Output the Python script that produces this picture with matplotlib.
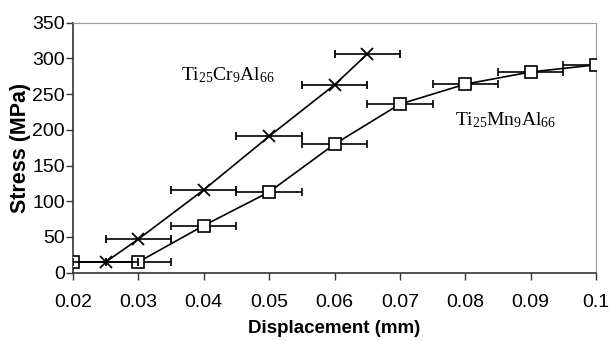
import matplotlib
matplotlib.use('Agg')
import matplotlib.pyplot as plt
from matplotlib import rcParams

rcParams['font.family'] = 'Liberation Sans'
rcParams['mathtext.fontset'] = 'custom'
rcParams['mathtext.rm'] = 'Liberation Serif'
rcParams['mathtext.it'] = 'Liberation Serif'

# Ti25Cr9Al66 (x markers)
cr_x = [0.025, 0.03, 0.04, 0.05, 0.06, 0.065]
cr_y = [15, 47, 116, 191, 263, 306]
# Ti25Mn9Al66 (squares)
mn_x = [0.02, 0.03, 0.04, 0.05, 0.06, 0.07, 0.08, 0.09, 0.1]
mn_y = [15, 15, 66, 113, 180, 236, 264, 281, 291]
xerr = 0.005

xticks = [0.02, 0.03, 0.04, 0.05, 0.06, 0.07, 0.08, 0.09, 0.1]
xticklabels = ['0.02', '0.03', '0.04', '0.05', '0.06', '0.07', '0.08', '0.09', '0.1']
yticks = [0, 50, 100, 150, 200, 250, 300, 350]

fig = plt.figure(figsize=(6.12, 3.41), dpi=100)
ax = fig.add_axes([0.1193, 0.2003, 0.8546, 0.7331])

ax.errorbar(mn_x, mn_y, xerr=xerr, color='black', lw=1.2, elinewidth=1.2,
            capsize=3, capthick=1.2, marker='s', markersize=8.5,
            mfc='white', mec='black', mew=1.2, zorder=3)
ax.errorbar(cr_x, cr_y, xerr=xerr, color='black', lw=1.2, elinewidth=1.2,
            capsize=3, capthick=1.2, marker='x', markersize=9,
            mec='black', mew=1.3, zorder=4)

ax.text(0.0365, 276, r'Ti$_{25}$Cr$_{9}$Al$_{66}$', fontsize=14,
        family='Liberation Serif', ha='left', va='center')
ax.text(0.0785, 214, r'Ti$_{25}$Mn$_{9}$Al$_{66}$', fontsize=14,
        family='Liberation Serif', ha='left', va='center')

ax.set_xlim(0.02, 0.1)
ax.set_ylim(0, 350)
ax.set_xticks(xticks)
ax.set_xticklabels(xticklabels)
ax.set_yticks(yticks)
ax.tick_params(axis='both', labelsize=14, direction='out', length=5,
               width=1, color='#333333', pad=1)
ax.tick_params(axis='x', pad=10)

for s in ['top', 'right']:
    ax.spines[s].set_color('#999999')
for s in ['left', 'bottom']:
    ax.spines[s].set_color('#333333')
    ax.spines[s].set_linewidth(1.2)

ax.set_xlabel('Displacement (mm)', fontsize=13.5, weight='bold', labelpad=7)
ax.set_ylabel('Stress (MPa)', fontsize=15.5, weight='bold', labelpad=1)

fig.savefig('out.png', dpi=100, facecolor='white')
